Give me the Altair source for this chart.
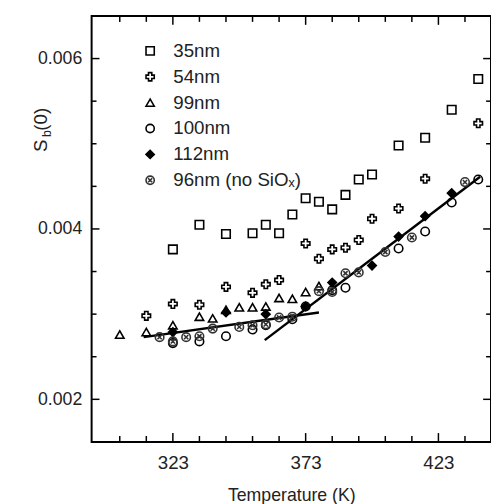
import altair as alt
import pandas as pd

# ---------------- data ----------------
series_names = ["35nm", "54nm", "99nm", "100nm", "112nm", "96nm (no SiOₓ)"]

t_35 = [323, 333, 343, 353, 358, 363, 368, 373, 378, 383, 388, 393, 398, 408, 418, 428, 438]
s_35 = [0.00376, 0.00405, 0.00394, 0.00395, 0.00405, 0.00395, 0.00417, 0.00436, 0.00432,
        0.00423, 0.00440, 0.00458, 0.00464, 0.00498, 0.00507, 0.00540, 0.00576]

t_54 = [313, 323, 333, 343, 353, 358, 363, 373, 378, 383, 388, 393, 398, 408, 418, 438]
s_54 = [0.00298, 0.00312, 0.00311, 0.00332, 0.00325, 0.00335, 0.00340, 0.00383, 0.00365,
        0.00376, 0.00378, 0.00387, 0.00412, 0.00424, 0.00459, 0.00524]

t_99 = [303, 313, 323, 333, 338, 343, 348, 353, 358, 363, 368, 373, 378]
s_99 = [0.00276, 0.00279, 0.00287, 0.00297, 0.00295, 0.00305, 0.00308, 0.00308, 0.00309,
        0.00319, 0.00318, 0.00326, 0.00333]

t_100 = [323, 333, 343, 353, 358, 368, 373, 383, 388, 408, 418, 428, 438]
s_100 = [0.00266, 0.00268, 0.00274, 0.00282, 0.00287, 0.00294, 0.00309, 0.00328, 0.00331,
         0.00377, 0.00397, 0.00431, 0.00458]

t_112 = [323, 343, 358, 373, 383, 398, 408, 418, 428]
s_112 = [0.00279, 0.00302, 0.00300, 0.00309, 0.00337, 0.00357, 0.00391, 0.00415, 0.00442]

t_96 = [318, 323, 328, 333, 338, 348, 353, 358, 363, 368, 378, 383, 388, 393, 403, 413, 433]
s_96 = [0.00273, 0.00268, 0.00273, 0.00274, 0.00283, 0.00285, 0.00287, 0.00288, 0.00296,
        0.00297, 0.00327, 0.00326, 0.00348, 0.00349, 0.00373, 0.00390, 0.00455]

# linear fits (two segments)
fit_seg = ["low", "low", "high", "high"]
fit_t = [312, 378, 357.6, 438.7]
fit_s = [0.00273, 0.00302, 0.002695, 0.004612]

# axis ticks
x_major = [323, 373, 423]
x_minor = [303, 313, 333, 343, 353, 363, 383, 393, 403, 413, 433]
y_major = [0.002, 0.004, 0.006]
y_minor = [0.0025, 0.003, 0.0035, 0.0045, 0.005, 0.0055]

x_title = "Temperature (K)"
y_title_parts = ["S", "b", "(0)"]

# ---------------- build tables ----------------
all_t = [t_35, t_54, t_99, t_100, t_112, t_96]
all_s = [s_35, s_54, s_99, s_100, s_112, s_96]
df = pd.concat(
    [pd.DataFrame({"T": t, "S": s, "series": n}) for n, t, s in zip(series_names, all_t, all_s)],
    ignore_index=True,
)
fit_df = pd.DataFrame({"T": fit_t, "S": fit_s, "seg": fit_seg})

FONT = "Liberation Sans"
TXT = "#222222"
W, H = 406, 433

xscale = alt.Scale(domain=[292.4, 442.8], nice=False, zero=False)
yscale = alt.Scale(domain=[0.0015, 0.0065], nice=False, zero=False)
xaxis = alt.Axis(values=x_major, format="d", title=x_title, labelFontSize=19, labelPadding=12,
                 titleFontSize=18, titlePadding=15)
yaxis = alt.Axis(values=y_major, format=".3f", title=None, labelFontSize=18, labelPadding=10)

X = alt.X("T:Q", scale=xscale, axis=xaxis)
Y = alt.Y("S:Q", scale=yscale, axis=yaxis)

pattern_path = ("M-1,0A1,1,0,1,1,1,0A1,1,0,1,1,-1,0Z"
                "M-0.5,-0.5L0.5,0.5M-0.5,0.5L0.5,-0.5")
shape_range = ["square", "cross", "triangle-up", "circle", "diamond", pattern_path]
fill_range = ["transparent", "transparent", "transparent", "transparent", "black", "transparent"]
stroke_range = ["black", "black", "black", "black", "black", "#333333"]

legend = alt.Legend(orient="none", legendX=50, legendY=26, title=None, padding=0,
                    labelFontSize=19, labelFont=FONT, labelColor=TXT, labelOffset=14,
                    rowPadding=6.3, symbolSize=70, symbolStrokeWidth=1.6)

points = alt.Chart(df).mark_point(filled=True, strokeWidth=1.6, opacity=1, size=75).encode(
    x=X, y=Y,
    shape=alt.Shape("series:N", scale=alt.Scale(domain=series_names, range=shape_range), legend=legend),
    fill=alt.Fill("series:N", scale=alt.Scale(domain=series_names, range=fill_range), legend=legend),
    stroke=alt.Stroke("series:N", scale=alt.Scale(domain=series_names, range=stroke_range), legend=legend),
)

lines = alt.Chart(fit_df).mark_line(color="black", strokeWidth=2.5).encode(
    x=X, y=Y, detail="seg:N")

xmaj = pd.DataFrame({"T": x_major})
xmin = pd.DataFrame({"T": x_minor})
ymaj = pd.DataFrame({"S": y_major})
ymin = pd.DataFrame({"S": y_minor})

def vtick(data, y0, y1):
    return alt.Chart(data).mark_rule(color="black", strokeWidth=1.5).encode(
        x=X, y=alt.value(y0), y2=alt.value(y1))

def htick(data, x0, x1):
    return alt.Chart(data).mark_rule(color="black", strokeWidth=1.5).encode(
        y=Y, x=alt.value(x0), x2=alt.value(x1))

ticks = [
    vtick(xmaj, H, H - 9), vtick(xmin, H, H - 6),
    vtick(xmaj, 0, 9), vtick(xmin, 0, 6),
    htick(ymaj, 0, 8), htick(ymin, 0, 5),
    htick(ymaj, W, W - 8), htick(ymin, W, W - 5),
]

title_df = pd.DataFrame({"txt": y_title_parts})
def ytitle(i, size, xv, yv):
    return alt.Chart(title_df.iloc[[i]]).mark_text(
        angle=270, align="center", baseline="middle", font=FONT, fontSize=size, color=TXT
    ).encode(text="txt:N", x=alt.value(xv), y=alt.value(yv))

titles = [ytitle(0, 19, -51, 132), ytitle(1, 12.5, -45, 119.5), ytitle(2, 19, -51, 105)]

chart = alt.layer(lines, points, *ticks, *titles).properties(
    width=W, height=H,
    autosize=alt.AutoSizeParams(type="none"),
    padding={"left": 85, "top": 4, "right": 0, "bottom": 59},
).configure_view(stroke="black", strokeWidth=2).configure_axis(
    grid=False, domain=False, ticks=False, labelFont=FONT, labelColor=TXT,
    titleFont=FONT, titleColor=TXT, titleFontWeight="normal",
)

chart.save("out.html", embed_options={"renderer": "svg", "actions": False})
